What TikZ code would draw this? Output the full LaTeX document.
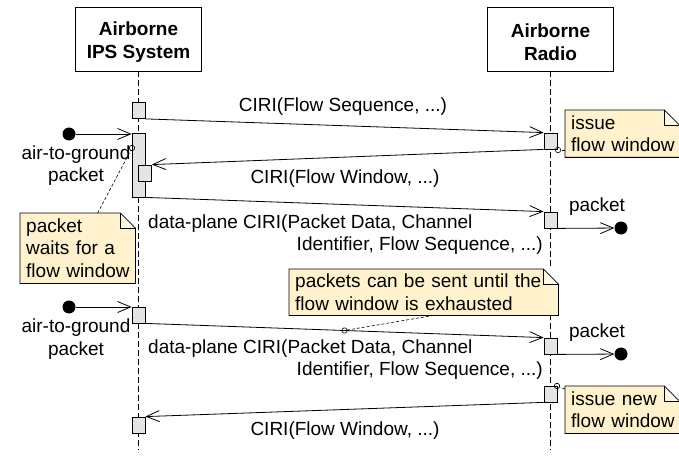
\documentclass[tikz,border=0pt]{standalone}
\usepackage{fontspec}
\setmainfont{Liberation Sans}
\usetikzlibrary{arrows.meta}

\definecolor{notefill}{HTML}{FFF2CC}
\definecolor{foldfill}{HTML}{FFF8E4}
\definecolor{actfill}{HTML}{E4E4E4}

\hyphenpenalty=10000
\exhyphenpenalty=10000
\hbadness=10000
\hfuzz=5pt

\tikzset{
	every node/.style={font=\fontsize{19}{22.5}\selectfont},
	head/.style={draw,line width=0.9pt,align=center,font=\fontsize{19}{22.5}\selectfont\bfseries,minimum width=126pt,minimum height=64pt,inner sep=0pt},
	lifeline/.style={line width=0.8pt,dash pattern=on 6pt off 3pt},
	act/.style={draw,fill=actfill,line width=0.8pt,minimum width=13pt,minimum height=16pt,inner sep=0pt},
	msg/.style={line width=0.8pt,-{Straight Barb[length=13pt,width=11pt]}},
	dot/.style={circle,fill=black,minimum size=13pt,inner sep=0pt},
	lbl/.style={inner sep=0pt},
	note/.style={anchor=north west,align=left,inner xsep=6pt,inner ysep=0pt,fill=notefill,
		path picture={
			\fill[white] ([xshift=-15pt]path picture bounding box.north east) -- (path picture bounding box.north east) -- ([yshift=-15pt]path picture bounding box.north east) -- cycle;
			\fill[foldfill] ([xshift=-15pt]path picture bounding box.north east) |- ([yshift=-15pt]path picture bounding box.north east) -- cycle;
		}},
	noteline/.style={line width=0.6pt,dash pattern=on 3pt off 2pt,-{Circle[open,length=6pt,width=6pt]},shorten >=-3pt}
}

% outline of a note with folded corner
\newcommand{\noteoutline}[1]{%
	\draw[line width=0.8pt] (#1.north west) -- ([xshift=-15pt]#1.north east) -- ([yshift=-15pt]#1.north east) -- (#1.south east) -- (#1.south west) -- cycle;
	\draw[line width=0.8pt] ([xshift=-15pt]#1.north east) |- ([yshift=-15pt]#1.north east);
}

\begin{document}
\begin{tikzpicture}[x=1pt,y=-1pt]
	\useasboundingbox (0,0) rectangle (679,457);
	
	%LIFELINES
	\node[head] (ips) at (138.5,39) {\rule{0pt}{20pt}Airborne\\IPS System};
	\node[head] (radio) at (550.5,39) {\rule{0pt}{20pt}Airborne\\Radio};
	\coordinate (bottom) at (0,450);
	\draw[lifeline] (ips) -- (ips |- bottom);
	\draw[lifeline] (radio) -- (radio |- bottom);
	
	%ACTIVATIONS
	\node[act] (a1) at (138.5,110.5) {};
	\node[act,minimum height=64pt] (a2) at (138.5,165) {};
	\node[act] (a3) at (145,173) {};
	\node[act] (a4) at (138.5,315) {};
	\node[act] (a5) at (138.5,425) {};
	\node[act] (b1) at (550.5,141) {};
	\node[act] (b2) at (550.5,220) {};
	\node[act] (b3) at (550.5,346) {};
	\node[act] (b4) at (550.5,394) {};
	
	%FOUND AND LOST PACKETS
	\node[dot] (src1) at (69,134) {};
	\node[dot] (src2) at (69,307) {};
	\node[dot] (snk1) at (621,228) {};
	\node[dot] (snk2) at (621,354) {};
	\draw[msg] (src1) -- (src1 -| a2.west);
	\draw[msg] (src2) -- (src2 -| a4.west);
	\draw[msg] (b2.south east) -- (snk1);
	\draw[msg] (b3.south east) -- (snk2);
	\node[lbl,align=center,anchor=base] (g1) at (76,182) {air-to-ground\\packet};
	\node[lbl,align=center,anchor=base] (g2) at (76,355) {air-to-ground\\packet};
	\node[lbl,anchor=base] (p1) at (597,211) {packet};
	\node[lbl,anchor=base] (p2) at (597,337) {packet};
	
	%MESSAGES
	\draw[msg] (a1.south east) -- (b1.north west);
	\draw[msg] (b1.south west) -- (a3.north east);
	\draw[msg] (a2.south east) -- (b2.north west);
	\draw[msg] (a4.south east) -- (b3.north west) coordinate[midway] (k3);
	\draw[msg] (b4.south west) -- (a5.north east);
	\node[lbl,anchor=base] (l1) at (343,112) {CIRI(Flow Sequence, ...)};
	\node[lbl,anchor=base] (l2) at (345,183) {CIRI(Flow Window, ...)};
	\node[lbl,anchor=base west] (l3) at (148,228) {data-plane CIRI(Packet Data, Channel};
	\node[lbl,anchor=base east] (l3b) at (543,250) {Identifier, Flow Sequence, ...)};
	\node[lbl,anchor=base west] (l4) at (148,353) {data-plane CIRI(Packet Data, Channel};
	\node[lbl,anchor=base east] (l4b) at (543,375) {Identifier, Flow Sequence, ...)};
	\node[lbl,anchor=base] (l5) at (345,435) {CIRI(Flow Window, ...)};
	
	%NOTES
	\node[note,text width=102pt,minimum height=47pt] (n1) at (565,110) {issue\\flow~window};
	\node[note,text width=103pt,minimum height=70pt] (n2) at (20,213) {packet\\waits for a\\flow~window};
	\node[note,text width=257pt,minimum height=46pt] (n3) at (289,269) {packets can be sent until the\\flow window is exhausted};
	\node[note,text width=102pt,minimum height=47pt] (n4) at (565,386) {issue new\\flow~window};
	\noteoutline{n1}
	\noteoutline{n2}
	\noteoutline{n3}
	\noteoutline{n4}
	\coordinate (k1) at (558,150);
	\coordinate (k2) at (132,148);
	\coordinate (k4) at (557,386);
	\draw[noteline] (k1 -| n1.west) -- (k1);
	\draw[noteline] ([xshift=20pt]n2.north) -- (k2);
	\draw[noteline] ([xshift=10pt]n3.south) -- (k3);
	\draw[noteline] ([yshift=-3pt]n4.north west) -- (k4);
\end{tikzpicture}
\end{document}
